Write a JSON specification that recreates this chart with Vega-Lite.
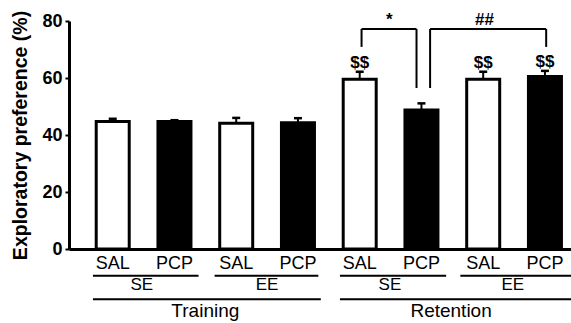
{
  "$schema": "https://vega.github.io/schema/vega-lite/v6.json",
  "width": 502,
  "height": 228,
  "autosize": "none",
  "padding": {"left": 69, "top": 21, "right": 0, "bottom": 74},
  "background": "white",
  "config": {
    "view": {"stroke": null},
    "font": "Liberation Sans",
    "axis": {"grid": false, "domainColor": "black", "domainWidth": 3, "tickColor": "black", "labelColor": "black", "titleColor": "black"}
  },
  "datasets": {
    "bars": [
      {"phase": "Training", "housing": "SE", "treatment": "SAL", "pos": 1, "mean": 44.7, "upper": 45.7, "sig": ""},
      {"phase": "Training", "housing": "SE", "treatment": "PCP", "pos": 2, "mean": 44.7, "upper": 45.2, "sig": ""},
      {"phase": "Training", "housing": "EE", "treatment": "SAL", "pos": 3, "mean": 44.1, "upper": 46.0, "sig": ""},
      {"phase": "Training", "housing": "EE", "treatment": "PCP", "pos": 4, "mean": 44.3, "upper": 45.9, "sig": ""},
      {"phase": "Retention", "housing": "SE", "treatment": "SAL", "pos": 5, "mean": 59.6, "upper": 62.2, "sig": "$$"},
      {"phase": "Retention", "housing": "SE", "treatment": "PCP", "pos": 6, "mean": 48.8, "upper": 51.1, "sig": ""},
      {"phase": "Retention", "housing": "EE", "treatment": "SAL", "pos": 7, "mean": 59.6, "upper": 62.2, "sig": "$$"},
      {"phase": "Retention", "housing": "EE", "treatment": "PCP", "pos": 8, "mean": 60.5, "upper": 62.5, "sig": "$$"}
    ],
    "brackets": [
      {"label": "*", "x1": 5.03, "x2": 5.92, "top": 77.2, "left": 70.9, "right": 56.5, "lx": 5.48},
      {"label": "##", "x1": 6.14, "x2": 8.02, "top": 77.2, "left": 56.5, "right": 70.9, "lx": 7.02}
    ],
    "groups": [
      {"kind": "housing", "label": "SE", "x": 1.47, "level": "housing"},
      {"kind": "housing", "label": "EE", "x": 3.5, "level": "housing"},
      {"kind": "housing", "label": "SE", "x": 5.49, "level": "housing"},
      {"kind": "housing", "label": "EE", "x": 7.48, "level": "housing"},
      {"kind": "phase", "label": "Training", "x": 2.5, "level": "phase"},
      {"kind": "phase", "label": "Retention", "x": 6.48, "level": "phase"}
    ],
    "lines": [
      {"x1": 0.68, "x2": 2.39, "level": "line1"},
      {"x1": 2.65, "x2": 4.33, "level": "line1"},
      {"x1": 4.68, "x2": 6.4, "level": "line1"},
      {"x1": 6.63, "x2": 8.6, "level": "line1"},
      {"x1": 0.68, "x2": 4.37, "level": "line2"},
      {"x1": 4.68, "x2": 8.6, "level": "line2"}
    ]
  },
  "layer": [
    {
      "layer": [
        {
          "data": {"name": "bars"},
          "mark": {"type": "bar", "size": 33, "stroke": "black", "strokeWidth": 3},
          "encoding": {
            "x": {"field": "pos", "type": "quantitative", "scale": {"domain": [0.373, 8.341], "nice": false, "zero": false},
              "axis": {"values": [1, 2, 3, 4, 5, 6, 7, 8], "labels": false, "ticks": false, "title": null}},
            "y": {"field": "mean", "type": "quantitative", "scale": {"domain": [0, 80], "nice": false},
              "axis": {"values": [0, 20, 40, 60, 80], "title": "Exploratory preference (%)", "titleFontSize": 19.5, "titleFontWeight": "bold", "titlePadding": 11, "labelFontSize": 18, "labelFontWeight": "bold", "tickSize": 4, "tickWidth": 2, "labelPadding": 3}},
            "fill": {"field": "treatment", "type": "nominal", "scale": {"domain": ["SAL", "PCP"], "range": ["white", "black"]}, "legend": null}
          }
        },
        {
          "data": {"name": "bars"},
          "mark": {"type": "rule", "color": "black", "strokeWidth": 2},
          "encoding": {
            "x": {"field": "pos", "type": "quantitative"},
            "y": {"field": "mean", "type": "quantitative"},
            "y2": {"field": "upper"}
          }
        },
        {
          "data": {"name": "bars"},
          "mark": {"type": "tick", "orient": "horizontal", "size": 8, "thickness": 2.5, "color": "black", "opacity": 1},
          "encoding": {
            "x": {"field": "pos", "type": "quantitative"},
            "y": {"field": "upper", "type": "quantitative"}
          }
        },
        {
          "data": {"name": "bars"},
          "mark": {"type": "text", "baseline": "middle", "dy": -9, "fontSize": 17, "fontWeight": "bold", "color": "black"},
          "encoding": {
            "x": {"field": "pos", "type": "quantitative"},
            "y": {"field": "upper", "type": "quantitative"},
            "text": {"field": "sig"}
          }
        },
        {
          "data": {"name": "brackets"},
          "mark": {"type": "rule", "color": "black", "strokeWidth": 2},
          "encoding": {
            "x": {"field": "x1", "type": "quantitative"},
            "x2": {"field": "x2"},
            "y": {"field": "top", "type": "quantitative"}
          }
        },
        {
          "data": {"name": "brackets"},
          "mark": {"type": "rule", "color": "black", "strokeWidth": 2},
          "encoding": {
            "x": {"field": "x1", "type": "quantitative"},
            "y": {"field": "left", "type": "quantitative"},
            "y2": {"field": "top"}
          }
        },
        {
          "data": {"name": "brackets"},
          "mark": {"type": "rule", "color": "black", "strokeWidth": 2},
          "encoding": {
            "x": {"field": "x2", "type": "quantitative"},
            "y": {"field": "right", "type": "quantitative"},
            "y2": {"field": "top"}
          }
        },
        {
          "data": {"name": "brackets"},
          "mark": {"type": "text", "baseline": "alphabetic", "dy": -4, "fontSize": 17, "fontWeight": "bold", "color": "black"},
          "encoding": {
            "x": {"field": "lx", "type": "quantitative"},
            "y": {"field": "top", "type": "quantitative"},
            "text": {"field": "label"}
          }
        }
      ]
    },
    {
      "layer": [
        {
          "data": {"name": "bars"},
          "mark": {"type": "text", "baseline": "middle", "fontSize": 18, "color": "black"},
          "encoding": {
            "x": {"field": "pos", "type": "quantitative"},
            "y": {"datum": "treatment", "type": "nominal", "scale": {"type": "point", "domain": ["treatment", "line1", "housing", "line2", "phase"], "range": [243, 290], "padding": 0}, "axis": null},
            "text": {"field": "treatment"}
          }
        },
        {
          "data": {"name": "lines"},
          "mark": {"type": "rule", "color": "black", "strokeWidth": 2},
          "encoding": {
            "x": {"field": "x1", "type": "quantitative"},
            "x2": {"field": "x2"},
            "y": {"field": "level", "type": "nominal", "axis": null}
          }
        },
        {
          "data": {"name": "groups"},
          "transform": [{"filter": "datum.kind === 'housing'"}],
          "mark": {"type": "text", "baseline": "middle", "dy": -3, "fontSize": 17, "color": "black"},
          "encoding": {
            "x": {"field": "x", "type": "quantitative"},
            "y": {"field": "level", "type": "nominal", "axis": null},
            "text": {"field": "label"}
          }
        },
        {
          "data": {"name": "groups"},
          "transform": [{"filter": "datum.kind === 'phase'"}],
          "mark": {"type": "text", "baseline": "middle", "fontSize": 19, "color": "black"},
          "encoding": {
            "x": {"field": "x", "type": "quantitative"},
            "y": {"field": "level", "type": "nominal", "axis": null},
            "text": {"field": "label"}
          }
        }
      ]
    }
  ],
  "resolve": {"scale": {"y": "independent"}}
}
